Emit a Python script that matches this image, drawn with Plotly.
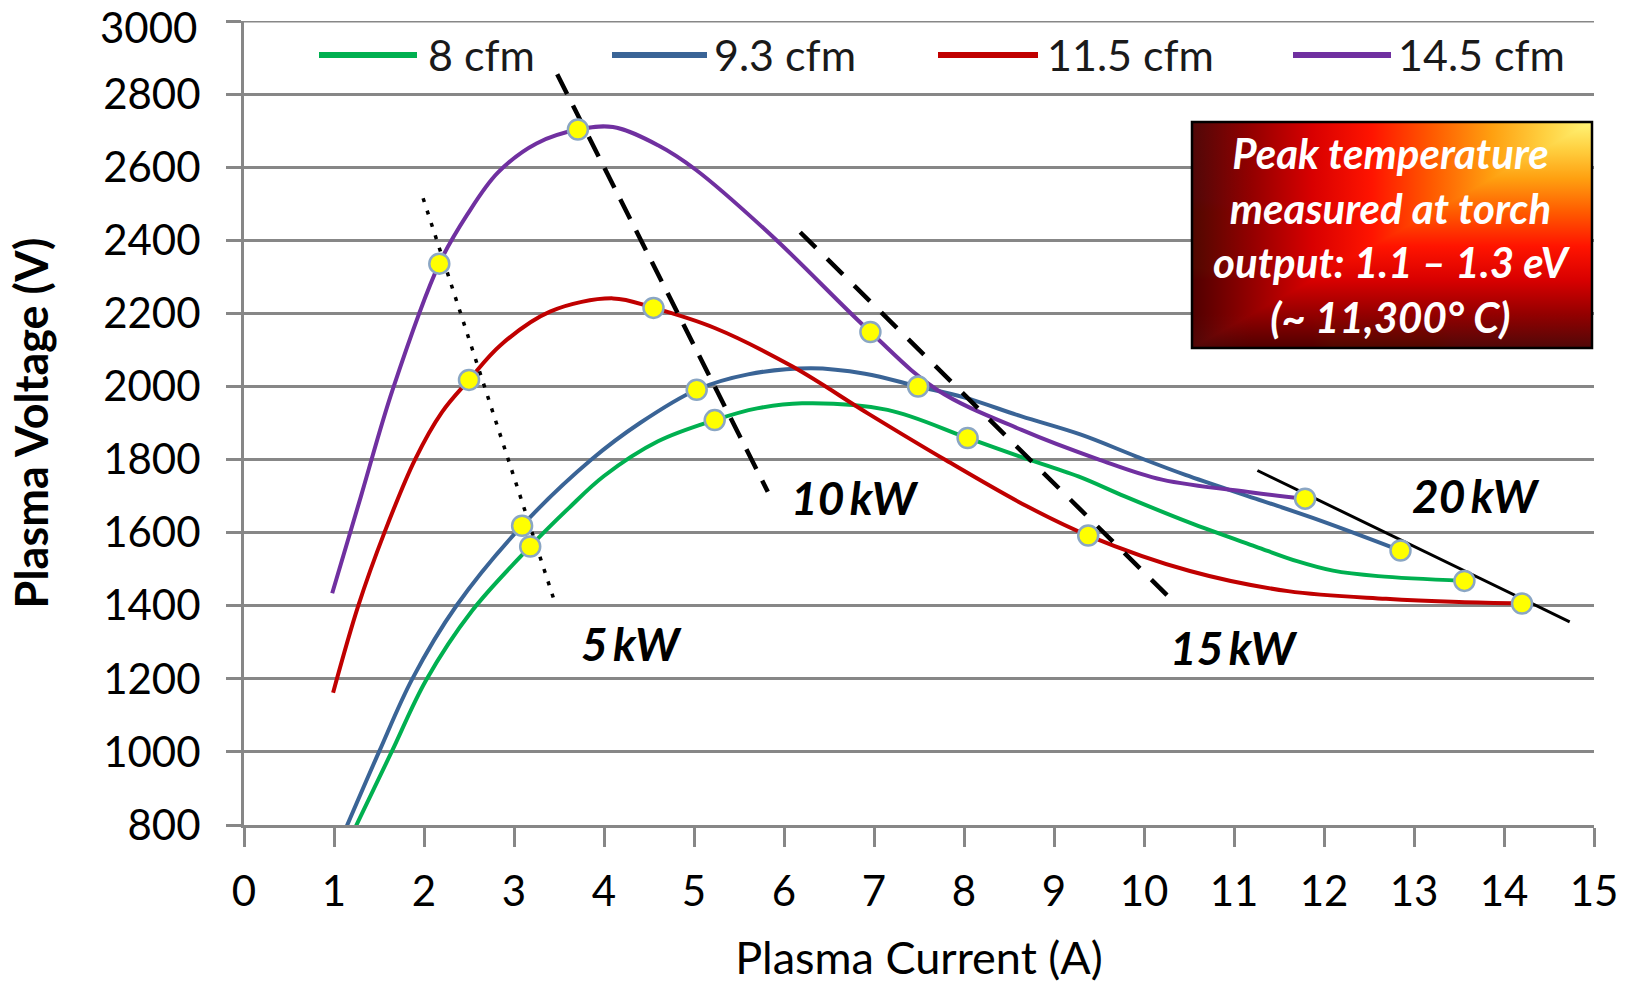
import base64
import plotly.graph_objects as go

# ---------------- data ----------------
series_names = ["8 cfm", "9.3 cfm", "11.5 cfm", "14.5 cfm"]
series_colors = ["#00b050", "#3a6496", "#c00000", "#7030a0"]

green_x = [1.23, 1.64, 2.02, 2.53, 3.18, 3.6, 4.0, 4.6, 5.23, 5.7, 6.2, 7.15, 8.04, 8.6, 9.27, 9.78, 10.5, 11.24, 11.7, 12.1, 12.6, 13.56]
green_y = [790, 1000, 1195, 1385, 1562, 1665, 1755, 1850, 1908, 1940, 1954, 1936, 1859, 1810, 1754, 1700, 1628, 1562, 1522, 1496, 1481, 1468]

blue_x = [1.13, 1.50, 1.87, 2.36, 3.09, 3.86, 4.4, 5.03, 5.6, 6.3, 6.9, 7.49, 8.0, 8.64, 9.3, 9.91, 10.46, 11.24, 11.96, 12.85]
blue_y = [790, 1000, 1200, 1400, 1619, 1800, 1900, 1991, 2033, 2050, 2035, 2000, 1970, 1918, 1868, 1809, 1758, 1693, 1633, 1551]

red_x = [0.99, 1.27, 1.56, 1.90, 2.2, 2.50, 2.85, 3.4, 4.1, 4.55, 5.23, 6.09, 6.94, 7.8, 8.7, 9.38, 10.51, 11.6, 12.69, 13.5, 14.2]
red_y = [1162, 1400, 1600, 1800, 1930, 2018, 2113, 2205, 2241, 2215, 2160, 2055, 1925, 1798, 1672, 1592, 1495, 1440, 1419, 1410, 1406]

purple_x = [0.98, 1.3, 1.65, 2.17, 2.48, 2.82, 3.25, 3.71, 4.1, 4.6, 5.02, 5.87, 6.96, 7.7, 8.64, 9.5, 10.2, 11.2, 11.79]
purple_y = [1434, 1700, 1990, 2336, 2470, 2585, 2665, 2703, 2710, 2660, 2593, 2411, 2149, 1991, 1881, 1800, 1745, 1710, 1693]

# measured points (yellow markers)
green_mx, green_my = [3.18, 5.23, 8.04, 13.56], [1562, 1908, 1859, 1468]
blue_mx, blue_my = [3.09, 5.03, 7.49, 12.85], [1619, 1991, 2000, 1551]
red_mx, red_my = [2.50, 4.55, 9.38, 14.2], [2018, 2215, 1592, 1406]
purple_mx, purple_my = [2.17, 3.71, 6.96, 11.79], [2336, 2703, 2149, 1693]

# constant-power guide lines
power_labels = ["5 kW", "10 kW", "15 kW", "20 kW"]
p5_x, p5_y = [1.99, 3.45], [2515, 1412]
p10_x, p10_y = [3.48, 5.82], [2854, 1712]
p15_x, p15_y = [6.18, 10.3], [2422, 1418]
p20_x, p20_y = [11.26, 14.73], [1770, 1356]
label_x = [4.30, 6.79, 11.0, 13.69]
label_y = [1298, 1696, 1285, 1701]

x_ticks = list(range(0, 16))
y_ticks = list(range(800, 3001, 200))

# ---------------- layout geometry (pixels) ----------------
W, H = 1626, 984
L, R, T, B = 244, 32, 21, 159
PW, PH = W - L - R, H - T - B


def px(x):
    return (x - L) / PW


def py(y):
    return (H - B - y) / PH


FONT = "Lato"
GRID = "#878787"

fig = go.Figure()

curves = [(green_x, green_y), (blue_x, blue_y), (red_x, red_y), (purple_x, purple_y)]
for (cx, cy), name, col in zip(curves, series_names, series_colors):
    fig.add_trace(go.Scatter(x=cx, y=cy, mode="lines", name=name,
                             line=dict(color=col, width=4, shape="spline", smoothing=1.0),
                             showlegend=False, hoverinfo="skip"))

power = [(p5_x, p5_y, "4px,9px", 3.5), (p10_x, p10_y, "22px,13px", 4.5),
         (p15_x, p15_y, "22px,16px", 4.5), (p20_x, p20_y, "solid", 3)]
for (lx, ly, dash, w), nm in zip(power, power_labels):
    fig.add_trace(go.Scatter(x=lx, y=ly, mode="lines", name=nm,
                             line=dict(color="black", width=w, dash=dash),
                             showlegend=False, hoverinfo="skip"))

marks = [(green_mx, green_my), (blue_mx, blue_my), (red_mx, red_my), (purple_mx, purple_my)]
for (mx, my), name in zip(marks, series_names):
    fig.add_trace(go.Scatter(x=mx, y=my, mode="markers", name=name + " points",
                             marker=dict(size=20, color="#ffff00",
                                         line=dict(color="#8aa6c4", width=2.5)),
                             showlegend=False))

annotations = []
for t, lx, ly in zip(power_labels, label_x, label_y):
    annotations.append(dict(x=lx, y=ly, xref="x", yref="y", text=t.replace(" ", "\u2009"),
                            showarrow=False, xanchor="center", yanchor="middle",
                            font=dict(family=FONT, size=46, color="black",
                                      weight="bold", style="italic")))

# top y tick label drawn as an annotation so that it stays inside the page
y_ticktext = [str(v) for v in y_ticks]
top_label = y_ticktext[-1]
y_ticktext[-1] = ""
annotations.append(dict(x=px(199), y=1.0, xref="paper", yref="paper", yshift=T,
                        xanchor="right", yanchor="top", text=top_label, showarrow=False,
                        font=dict(family=FONT, size=42, color="black")))

# manual legend
shapes = [dict(type="line", xref="paper", yref="y", x0=0, x1=1, y0=3000, y1=3000,
               layer="below", line=dict(color=GRID, width=3))]
leg_line = [(319, 417), (612, 707), (938, 1038), (1293, 1391)]
leg_text = [426, 712, 1045, 1396]
LEG_Y = 55
for (a, b), tx, name, col in zip(leg_line, leg_text, series_names, series_colors):
    shapes.append(dict(type="line", xref="paper", yref="paper",
                       x0=px(a), x1=px(b), y0=py(LEG_Y), y1=py(LEG_Y),
                       line=dict(color=col, width=6)))
    annotations.append(dict(x=px(tx), y=py(LEG_Y), xref="paper", yref="paper",
                            xanchor="left", yanchor="middle", text=name, showarrow=False,
                            font=dict(family=FONT, size=43, color="#1a1a1a")))

# gradient box (rectangular "path" gradient from the top-right corner)
BX0, BY0, BX1, BY1 = 1192, 122, 1592, 348
BW, BH = BX1 - BX0, BY1 - BY0
stops = [(0, "#fff578"), (0.12, "#ffd040"), (0.25, "#ffa010"), (0.40, "#ff5a00"),
         (0.55, "#ff1400"), (0.70, "#d80000"), (0.85, "#940000"), (1.0, "#500808")]
stop_xml = "".join(f'<stop offset="{o}" stop-color="{c}"/>' for o, c in stops)
svg = f'''<svg xmlns="http://www.w3.org/2000/svg" width="{BW}" height="{BH}" viewBox="0 0 {BW} {BH}" preserveAspectRatio="none">
<defs>
<linearGradient id="h" x1="1" y1="0" x2="0" y2="0">{stop_xml}</linearGradient>
<linearGradient id="v" x1="0" y1="0" x2="0" y2="1">{stop_xml}</linearGradient>
</defs>
<rect x="0" y="0" width="{BW}" height="{BH}" fill="url(#h)"/>
<rect x="0" y="0" width="{BW}" height="{BH}" fill="url(#v)" style="mix-blend-mode:darken"/>
</svg>'''
src = "data:image/svg+xml;base64," + base64.b64encode(svg.encode()).decode()
images = [dict(source=src, xref="paper", yref="paper", x=px(BX0), y=py(BY0),
               sizex=BW / PW, sizey=BH / PH,
               xanchor="left", yanchor="top", sizing="stretch", layer="above")]
shapes.append(dict(type="rect", xref="paper", yref="paper", x0=px(BX0), x1=px(BX1),
                   y0=py(BY1), y1=py(BY0), line=dict(color="black", width=2.5)))
annotations.append(dict(x=px((BX0 + BX1) / 2), y=py((BY0 + BY1) / 2), xref="paper", yref="paper",
                        xanchor="center", yanchor="middle",
                        text="Peak temperature<br>measured at torch<br>output: 1.1 \u2013 1.3 eV<br>(~ 11,300\u00b0 C)",
                        showarrow=False, align="center",
                        font=dict(family=FONT, size=42, color="white", weight="bold", style="italic")))

fig.update_layout(
    width=W, height=H,
    margin=dict(l=L, r=R, t=T, b=B, autoexpand=False),
    paper_bgcolor="white", plot_bgcolor="white",
    showlegend=False,
    shapes=shapes, annotations=annotations, images=images,
    xaxis=dict(range=[0, 15], tickvals=x_ticks, ticktext=[str(v) for v in x_ticks],
               automargin=False,
               showgrid=False, zeroline=False, showline=True, linecolor=GRID, linewidth=3,
               ticks="outside", ticklen=19, tickwidth=3, tickcolor=GRID,
               ticklabelstandoff=9, ticklabeloverflow="allow",
               tickfont=dict(family=FONT, size=42, color="black"),
               title=dict(text="Plasma Current (A)", standoff=41,
                          font=dict(family=FONT, size=45, color="black"))),
    yaxis=dict(range=[800, 3000], tickvals=y_ticks, ticktext=y_ticktext,
               automargin=False,
               showgrid=True, gridcolor=GRID, gridwidth=3, zeroline=False,
               showline=True, linecolor=GRID, linewidth=3,
               ticks="outside", ticklen=15, tickwidth=3, tickcolor=GRID,
               ticklabelstandoff=17, ticklabeloverflow="allow",
               tickfont=dict(family=FONT, size=42, color="black"),
               title=dict(text="<b>Plasma Voltage (V)</b>", standoff=41,
                          font=dict(family=FONT, size=45, color="black"))),
)

fig.write_html("out.html")
